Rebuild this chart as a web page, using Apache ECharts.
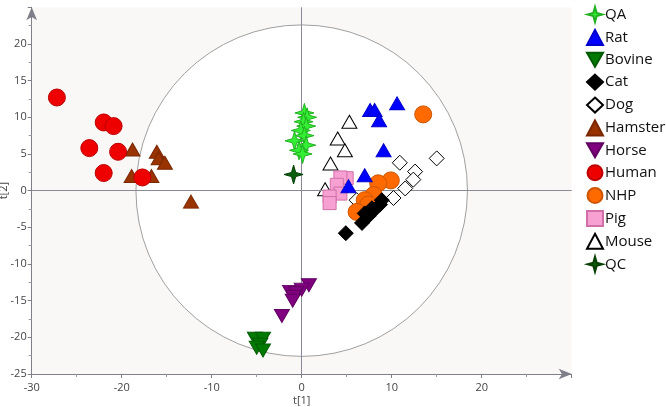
<!DOCTYPE html>
<html>
<head>
<meta charset="utf-8">
<script src="https://cdn.jsdelivr.net/npm/echarts@6/dist/echarts.min.js"></script>
<style>
  html, body { margin: 0; padding: 0; background: #fff; }
  #chart { width: 666px; height: 407px; }
</style>
</head>
<body>
<div id="chart"></div>
<script>
// scores t[1], t[2] per group
var qa = [[0.3, 10.6], [0.6, 10.0], [0.2, 9.4], [0.5, 8.8], [-0.1, 8.2], [0.3, 7.5], [-0.8, 6.8], [0.5, 6.2], [-0.3, 5.5], [0.1, 5.0]];
var rat = [[7.6, 11.0], [8.1, 11.0], [10.6, 11.9], [8.6, 9.6], [9.1, 5.5], [7.0, 2.1], [5.2, 0.6]];
var bovine = [[-5.2, -20.2], [-4.3, -20.2], [-4.6, -21.0], [-5.0, -21.4], [-4.3, -21.8]];
var cat = [[4.9, -5.8], [6.7, -4.4], [7.0, -3.1], [7.4, -3.5], [7.8, -2.4], [8.1, -2.6], [8.7, -1.9], [8.9, -1.3]];
var dog = [[15.0, 4.4], [10.9, 3.8], [12.6, 2.6], [12.4, 1.5], [11.5, 0.3], [10.2, -1.0], [6.1, -1.3]];
var hamster = [[-18.8, 5.6], [-16.1, 5.3], [-15.9, 4.4], [-15.2, 3.8], [-18.9, 2.0], [-16.7, 2.0], [-12.3, -1.5]];
var horse = [[0.8, -12.9], [-1.3, -13.8], [0, -13.5], [-0.6, -14.0], [-0.9, -14.5], [-1.0, -15.0], [-2.2, -17.1]];
var human = [[-27.2, 12.7], [-22.0, 9.3], [-20.9, 8.8], [-23.6, 5.8], [-20.4, 5.3], [-22.0, 2.4], [-17.7, 1.8]];
var nhp = [[13.5, 10.4], [9.9, 1.4], [8.5, 1.0], [8.0, -0.6], [7.0, -1.3], [7.4, -1.9], [6.1, -2.9]];
var pig = [[5.0, 1.7], [4.3, 1.8], [3.9, 0.8], [4.3, -0.4], [3.1, -0.8], [3.1, -1.7]];
var mouse = [[5.3, 9.4], [4.0, 7.1], [4.8, 5.5], [3.2, 3.7], [2.6, 0.2]];
var qc = [[-0.9, 2.2]];

// Hotelling T2 ellipse radii (t[1], t[2])
var ellipseRadii = [24.35, 22.6];

var xTicks = [-30, -20, -10, 0, 10, 20];
var yTicks = [-25, -20, -15, -10, -5, 0, 5, 10, 15, 20];

var star = 'path://M0,-10 L2.2,-2.2 L10,0 L2.2,2.2 L0,10 L-2.2,2.2 L-10,0 L-2.2,-2.2 Z';
var downTri = 'path://M0,0 L10,0 L5,8.7 Z';

var chart = echarts.init(document.getElementById('chart'));

function group(name, data, symbol, size, color, border, z) {
    return {
        name: name,
        type: 'scatter',
        data: data,
        symbol: symbol,
        symbolSize: size,
        z: z || 5,
        itemStyle: {
            color: color,
            borderColor: border,
            borderWidth: 1,
            opacity: 1
        }
    };
}

var series = [
    {
        type: 'custom',
        z: 1,
        silent: true,
        data: [[0, 0]],
        renderItem: function (params, api) {
            var c = api.coord([0, 0]);
            var s = api.size([ellipseRadii[0], ellipseRadii[1]]);
            return {
                type: 'path',
                shape: {
                    pathData: 'M0,50 A50,50 0 1 0 100,50 A50,50 0 1 0 0,50 Z',
                    x: c[0] - s[0],
                    y: c[1] - s[1],
                    width: s[0] * 2,
                    height: s[1] * 2
                },
                style: { fill: '#ffffff', stroke: '#a0a0a0', lineWidth: 1 }
            };
        }
    },
    {
        type: 'scatter',
        data: [],
        z: 2,
        silent: true,
        markLine: {
            silent: true,
            symbol: 'none',
            label: { show: false },
            lineStyle: { color: '#8a8a96', type: 'solid', width: 1 },
            data: [{ xAxis: 0 }, { yAxis: 0 }]
        }
    },
    group('QA', qa, star, 19, '#33ee33', '#22b022'),
    group('Rat', rat, 'triangle', [15, 13], '#0000ff', '#0000cc', 6),
    group('Bovine', bovine, downTri, [15, 13], '#007a00', '#005a00'),
    group('Cat', cat, 'diamond', [15, 15], '#000000', '#000000', 6),
    group('Dog', dog, 'diamond', [15, 15], '#ffffff', '#000000'),
    group('Hamster', hamster, 'triangle', [15, 13], '#993300', '#7a2800'),
    group('Horse', horse, downTri, [15, 13], '#800080', '#600060'),
    group('Human', human, 'circle', 17, '#ee0000', '#bb0000'),
    group('NHP', nhp, 'circle', 17, '#ff6a00', '#cc5500'),
    group('Pig', pig, 'rect', 13, '#f7a1d3', '#d06fa8'),
    group('Mouse', mouse, 'triangle', [15, 13], '#ffffff', '#000000', 4),
    group('QC', qc, star, 19, '#0b5e0b', '#064006')
];

var option = {
    animation: false,
    backgroundColor: '#ffffff',
    textStyle: { fontFamily: 'Open Sans, Noto Sans, sans-serif' },
    legend: {
        orient: 'vertical',
        left: 581,
        top: 1,
        itemWidth: 16,
        itemHeight: 15,
        itemGap: 5.9,
        data: ['QA', 'Rat', 'Bovine', 'Cat', 'Dog', 'Hamster', 'Horse', 'Human', 'NHP', 'Pig', 'Mouse', 'QC'],
        textStyle: { color: '#111', fontSize: 15, padding: [0, 0, 0, -3] }
    },
    grid: {
        left: 31.7,
        right: 94.3,
        top: 7.3,
        bottom: 33,
        outerBoundsMode: 'none',
        containLabel: false,
        show: true,
        backgroundColor: '#f9f8f7',
        borderWidth: 0
    },
    xAxis: {
        type: 'value',
        min: -30,
        max: 30,
        interval: 10,
        name: 't[1]',
        nameLocation: 'middle',
        nameGap: 21,
        nameMoveOverlap: false,
        nameTextStyle: { color: '#444', fontSize: 11 },
        axisLine: {
            onZero: false,
            lineStyle: { color: '#7f7f8a' },
            symbol: ['none', 'arrow'],
            symbolSize: [8, 13]
        },
        axisTick: { length: 4, lineStyle: { color: '#7f7f8a' } },
        minorTick: { show: true, splitNumber: 2, length: 3, lineStyle: { color: '#9a9aa4' } },
        axisLabel: {
            color: '#444',
            fontSize: 11,
            formatter: function (v) { return xTicks.indexOf(v) >= 0 ? String(v) : ''; }
        },
        splitLine: { show: false }
    },
    yAxis: {
        type: 'value',
        min: -25,
        max: 25,
        interval: 5,
        name: 't[2]',
        nameLocation: 'middle',
        nameGap: 22,
        nameMoveOverlap: false,
        nameTextStyle: { color: '#444', fontSize: 11 },
        axisLine: {
            show: true,
            onZero: false,
            lineStyle: { color: '#7f7f8a' },
            symbol: ['none', 'arrow'],
            symbolSize: [8, 13]
        },
        axisTick: { show: true, length: 4, lineStyle: { color: '#7f7f8a' } },
        minorTick: { show: true, splitNumber: 2, length: 3, lineStyle: { color: '#9a9aa4' } },
        axisLabel: {
            color: '#444',
            fontSize: 11,
            margin: 5,
            formatter: function (v) { return yTicks.indexOf(v) >= 0 ? String(v) : ''; }
        },
        splitLine: { show: false }
    },
    series: series
};

chart.setOption(option);
</script>
</body>
</html>
